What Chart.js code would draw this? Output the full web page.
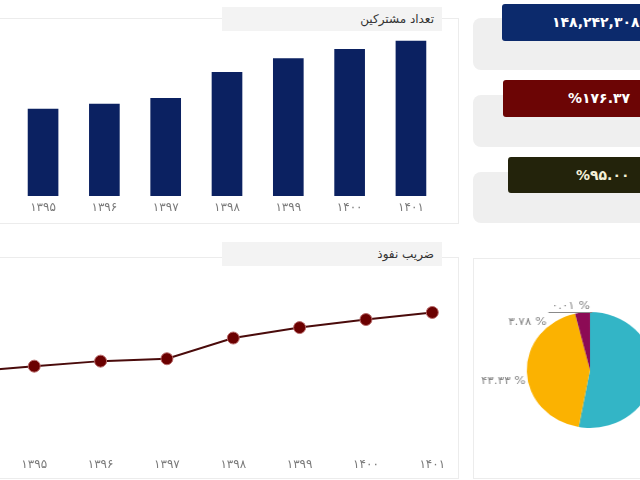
<!DOCTYPE html>
<html lang="fa">
<head>
<meta charset="utf-8">
<script src="https://cdn.jsdelivr.net/npm/chart.js@4.4.1/dist/chart.umd.min.js"></script>
<style>
    body { margin: 0; width: 640px; height: 480px; overflow: hidden; background: #fff; position: relative; font-family: "DejaVu Sans", sans-serif; }
    .card { position: absolute; border: 1px solid #ececec; background: #fff; }
    .tab { position: absolute; background: #f3f3f3; font-size: 12px; color: #333; direction: rtl; text-align: right; padding-right: 8px; box-sizing: border-box; line-height: 24px; }
    .kpi-bg { position: absolute; background: #efefef; border-radius: 8px; }
    .kpi { position: absolute; border-radius: 3px; font-size: 14px; font-weight: bold; direction: ltr; white-space: nowrap; line-height: 36px; box-sizing: border-box; }
    canvas { position: absolute; }
</style>
</head>
<body>

<!-- کارت نمودار میله‌ای -->
<div class="card" style="left:-10px; top:18px; width:467px; height:204px;"></div>
<div class="tab" style="left:222px; top:7px; width:220px; height:24px;">تعداد مشترکین</div>
<canvas id="barChart" width="452" height="204" style="left:0; top:20px;"></canvas>

<!-- کارت نمودار خطی -->
<div class="card" style="left:-10px; top:257px; width:467px; height:220px;"></div>
<div class="tab" style="left:222px; top:242px; width:220px; height:24px;">ضریب نفوذ</div>
<canvas id="lineChart" width="507" height="213" style="left:-50px; top:270px;"></canvas>

<!-- کارت نمودار دایره‌ای -->
<div class="card" style="left:473px; top:258px; width:200px; height:219px;"></div>
<canvas id="pieChart" width="200" height="200" style="left:490px; top:270px; transform:scaleX(1.09); transform-origin:50% 50%;"></canvas>

<!-- کارت‌های شاخص -->
<div class="kpi-bg" style="left:473px; top:18px; width:190px; height:52px;"></div>
<div class="kpi" id="kpi0" style="left:502px; top:4px; width:160px; height:37px; background:#0c2a6c; color:#fff; padding-left:50px; letter-spacing:1.5px;"></div>

<div class="kpi-bg" style="left:473px; top:95px; width:190px; height:52px;"></div>
<div class="kpi" id="kpi1" style="left:503px; top:80px; width:160px; height:37px; background:#6c0505; color:#fff; padding-left:65px;"></div>

<div class="kpi-bg" style="left:473px; top:172px; width:190px; height:51px;"></div>
<div class="kpi" id="kpi2" style="left:508px; top:157px; width:160px; height:36px; background:#23230b; color:#f3f0d8; padding-left:68px;"></div>

<script>
// سال‌ها (برچسب محور افقی)
const years = ['۱۳۹۵', '۱۳۹۶', '۱۳۹۷', '۱۳۹۸', '۱۳۹۹', '۱۴۰۰', '۱۴۰۱'];
// نمودار خطی از سال ۱۳۹۴ شروع می‌شود (بیرون از کادر)
const lineYears = ['۱۳۹۴', ...years];

// تعداد مشترکین (میلیون)
const subscribers = [83.3, 88.1, 93.5, 118.5, 131.6, 140.3, 148.24];
// ضریب نفوذ (درصد)
const penetration = [101.9, 109.0, 115.3, 118.3, 144.3, 157.4, 167.5, 176.37];

// سهم‌های نمودار دایره‌ای
const pieValues = [52.88, 43.33, 3.78, 0.01];
const pieColors = ['#33b5c6', '#fbb201', '#8c0b55', '#5a5a5a'];

// متن کارت‌های شاخص
const kpiTexts = ['۱۴۸,۲۴۲,۳۰۸', '%۱۷۶.۳۷', '%۹۵.۰۰'];

// تبدیل ارقام لاتین به فارسی
function toFa(str) {
    return String(str).replace(/\d/g, d => '۰۱۲۳۴۵۶۷۸۹'[d]);
}

kpiTexts.forEach((t, i) => {
    document.getElementById('kpi' + i).textContent = t;
});

const tickFont = { family: 'DejaVu Sans', size: 12 };
const tickColor = '#7a7a7a';

// نمودار میله‌ای
new Chart(document.getElementById('barChart').getContext('2d'), {
    type: 'bar',
    data: {
        labels: years,
        datasets: [{
            data: subscribers,
            backgroundColor: '#0b2161',
            borderWidth: 0,
            categoryPercentage: 1,
            barPercentage: 0.5
        }]
    },
    options: {
        responsive: false,
        animation: false,
        layout: { padding: { left: 12.4, right: 10.4, top: 8.5, bottom: 3.6 } },
        plugins: { legend: { display: false }, tooltip: { enabled: false } },
        scales: {
            x: {
                grid: { display: false, drawTicks: false },
                border: { display: false },
                ticks: { color: tickColor, font: tickFont, padding: 5 }
            },
            y: { display: false, min: 0, max: 160 }
        }
    }
});

// نمودار خطی
new Chart(document.getElementById('lineChart').getContext('2d'), {
    type: 'line',
    data: {
        labels: lineYears,
        datasets: [{
            data: penetration,
            borderColor: '#4a0b0b',
            borderWidth: 2,
            pointRadius: 6,
            pointBackgroundColor: '#6b0000',
            pointBorderColor: '#b86a6a',
            pointBorderWidth: 1,
            tension: 0,
            clip: false
        }]
    },
    options: {
        responsive: false,
        animation: false,
        layout: { padding: { left: 15.6, right: 24.7, top: 7.7, bottom: 5.6 } },
        plugins: { legend: { display: false }, tooltip: { enabled: false } },
        scales: {
            x: {
                offset: false,
                grid: { display: false, drawTicks: false },
                border: { display: false },
                ticks: { color: tickColor, font: tickFont, padding: 5, maxRotation: 0, autoSkip: false }
            },
            y: { display: false, min: 0, max: 220 }
        }
    }
});

// جای برچسب‌های بیرونی نسبت به لبه‌ی هر برش
const labelOffsets = [
    { dx: 4, dy: 0, align: 'left' },
    { dx: -1, dy: 9, align: 'right' },
    { dx: -33, dy: 10, align: 'right' },
    { dx: 0, dy: -6, align: 'right', line: true }
];

const pieLabelPlugin = {
    id: 'pieLabels',
    afterDatasetsDraw(chart) {
        const ctx = chart.ctx;
        const meta = chart.getDatasetMeta(0);
        ctx.save();
        ctx.font = '11px "DejaVu Sans"';
        ctx.fillStyle = '#858585';
        ctx.textBaseline = 'middle';
        meta.data.forEach((arc, i) => {
            const p = arc.getProps(['x', 'y', 'startAngle', 'endAngle', 'outerRadius'], true);
            const mid = (p.startAngle + p.endAngle) / 2;
            const ax = p.x + Math.cos(mid) * p.outerRadius;
            const ay = p.y + Math.sin(mid) * p.outerRadius;
            const off = labelOffsets[i];
            const text = toFa(pieValues[i].toFixed(2)) + ' %';
            const tx = ax + off.dx;
            const ty = ay + off.dy;
            ctx.textAlign = off.align;
            ctx.fillText(text, tx, ty);
            if (off.line) {
                const w = ctx.measureText(text).width;
                ctx.strokeStyle = '#8a8a8a';
                ctx.lineWidth = 1;
                ctx.beginPath();
                ctx.moveTo(tx - w - 3, ay + 0.5);
                ctx.lineTo(ax + 2, ay + 0.5);
                ctx.stroke();
            }
        });
        ctx.restore();
    }
};

// نمودار دایره‌ای
new Chart(document.getElementById('pieChart').getContext('2d'), {
    type: 'pie',
    data: {
        labels: ['الف', 'ب', 'ج', 'د'],
        datasets: [{
            data: pieValues,
            backgroundColor: pieColors,
            borderWidth: 0
        }]
    },
    options: {
        responsive: false,
        animation: false,
        layout: { padding: 42 },
        plugins: { legend: { display: false }, tooltip: { enabled: false } }
    },
    plugins: [pieLabelPlugin]
});
</script>
</body>
</html>
